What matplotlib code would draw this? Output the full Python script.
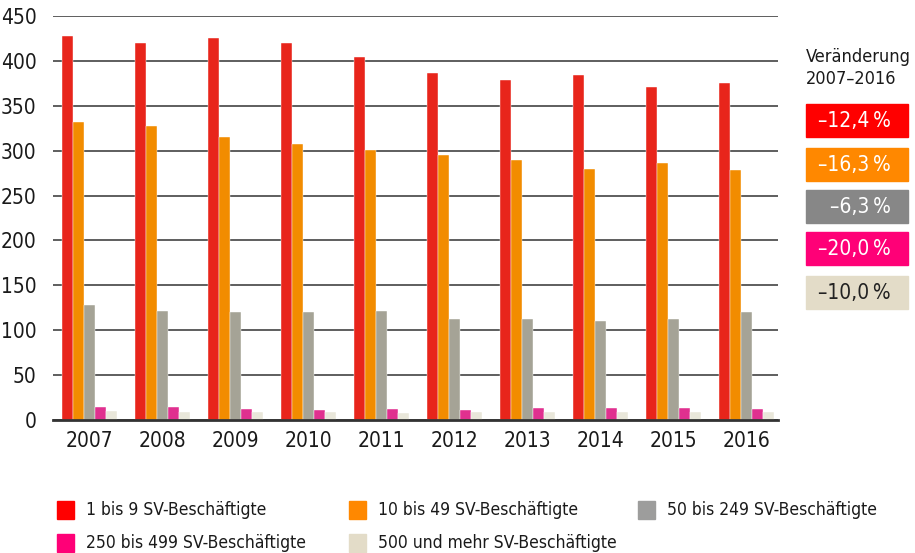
import numpy as np
import matplotlib
matplotlib.use("Agg")
import matplotlib.pyplot as plt
from matplotlib.patches import Rectangle

plt.rcParams['font.family'] = ['DejaVu Sans']
plt.rcParams['font.stretch'] = 'condensed'

years = ["2007", "2008", "2009", "2010", "2011", "2012", "2013", "2014", "2015", "2016"]
series_names = ["1 bis 9 SV-Beschäftigte", "10 bis 49 SV-Beschäftigte",
                "50 bis 249 SV-Beschäftigte", "250 bis 499 SV-Beschäftigte",
                "500 und mehr SV-Beschäftigte"]
s1_9 = [428, 420, 425, 420, 404, 387, 379, 384, 371, 375]
s10_49 = [332, 327, 315, 307, 301, 295, 290, 280, 286, 278]
s50_249 = [128, 121, 120, 120, 121, 113, 113, 110, 112, 120]
s250_499 = [15, 15, 12, 11, 12, 11, 13, 13, 13, 12]
s500 = [10, 9, 9, 9, 8, 9, 9, 9, 9, 9]
changes = ["\u201312,4\u2009%", "\u201316,3\u2009%", "\u20136,3\u2009%", "\u201320,0\u2009%", "\u201310,0\u2009%"]

bar_colors = ["#E8251B", "#F28C00", "#A5A396", "#E0308F", "#E9E7DA"]
box_colors = ["#FF0000", "#FF8800", "#878787", "#FF0077", "#E3DCC8"]
legend_colors = ["#FF0000", "#FF8800", "#9D9D9C", "#FF0077", "#E3DCC8"]
box_text = ["white", "white", "white", "white", "#222222"]

data = [s1_9, s10_49, s50_249, s250_499, s500]

W, H = 915, 553
fig = plt.figure(figsize=(W / 100, H / 100), dpi=100)
ax = fig.add_axes([53 / W, 1 - 420 / H, (778 - 53) / W, (420 - 16) / H])

x = np.arange(len(years))
w = 0.15
for i, vals in enumerate(data):
    ax.bar(x - 2 * w + i * w, vals, width=w, color=bar_colors[i], zorder=3,
           edgecolor="white", linewidth=0.3)

ax.set_ylim(0, 450)
ax.set_xlim(-0.5, 9.43)
ax.set_yticks(range(0, 451, 50))
ax.set_xticks(x)
ax.set_xticklabels(years)
ax.yaxis.grid(True, color="#333333", linewidth=1.1, zorder=0)
ax.set_axisbelow(True)
for s in ["top", "right", "left"]:
    ax.spines[s].set_visible(False)
ax.spines["bottom"].set_color("#333333")
ax.spines["bottom"].set_linewidth(2)
ax.spines["bottom"].set_zorder(4)
ax.tick_params(axis="both", length=0, labelsize=15, colors="#1a1a1a")
ax.tick_params(axis="y", pad=12)
ax.tick_params(axis="x", pad=8)


def px(xp, yp):
    return xp / W, 1 - yp / H


# right panel with change boxes
fig.text(*px(806, 68), "Veränderung\n2007\u20132016", fontsize=13,
         va="center", ha="left", color="#1a1a1a", linespacing=1.35)
tops = [104, 148, 190, 232, 276]
for i, t in enumerate(tops):
    fig.patches.append(Rectangle(px(806, t + 33), 102 / W, 33 / H,
                                 transform=fig.transFigure, color=box_colors[i]))
    fig.text(*px(891, t + 17), changes[i], fontsize=15, color=box_text[i],
             ha="right", va="center")

# legend, row by row
leg_pos = [(57, 510), (349, 510), (638, 510), (57, 543), (349, 543)]
for i, (lx, ly) in enumerate(leg_pos):
    fig.patches.append(Rectangle(px(lx, ly + 9), 17 / W, 18 / H,
                                 transform=fig.transFigure, color=legend_colors[i]))
    fig.text(*px(lx + 29, ly), series_names[i], fontsize=12.5, color="#1a1a1a",
             ha="left", va="center")

fig.savefig("out.png", dpi=100)
